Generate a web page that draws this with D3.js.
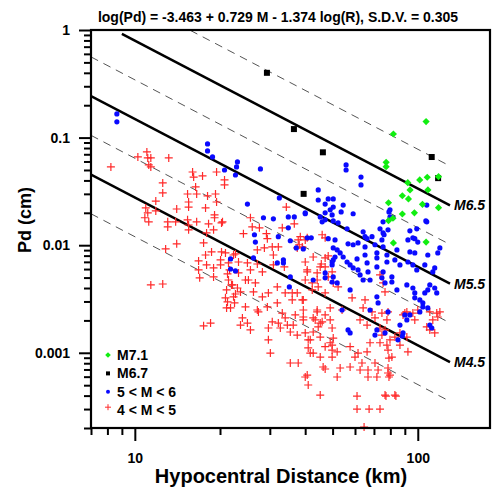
<!DOCTYPE html>
<html>
<head>
<meta charset="utf-8">
<script src="https://cdn.jsdelivr.net/npm/d3@7"></script>
<style>
  body { margin: 0; background: #fff; }
  svg { font-family: "Liberation Sans", Arial, sans-serif; font-weight: bold; }
</style>
</head>
<body>
<svg id="chart" width="499" height="491"></svg>
<script>
// regression from the title: log(Pd) = a + b M + c log(R)
const coefA = -3.463, coefM = 0.729, coefR = -1.374;
const titleText = "log(Pd) = -3.463 + 0.729 M - 1.374 log(R), S.D.V. = 0.305";

const solidMags = [4.5, 5.5, 6.5];
const solidLabels = ["M4.5", "M5.5", "M6.5"];
const solidStartR = [7, 7, 9];
const dashMags = [4.0, 5.0, 6.0, 7.0];
const lineEndR = 130;

const xDomain = [7, 180];
const yDomain = [0.0002, 1];
const xMajorTicks = [10, 100];
const yMajorTicks = [1, 0.1, 0.01, 0.001];

const legendLabels = ["M7.1", "M6.7", "5 < M < 6", "4 < M < 5"];

// [R (km), Pd (cm)]
const m71Points = [[107,0.141],[82,0.108],[77.3,0.0589],[77.3,0.0537],[118.4,0.0433],[108,0.0428],[101.6,0.0404],
  [92.2,0.0381],[93.9,0.0326],[108.6,0.0326],[88.2,0.0288],[92.7,0.0269],[78.8,0.0248],[103.9,0.024],[118.4,0.0223],
  [97.3,0.020],[88.2,0.0195],[81.7,0.0178],[78.8,0.0169],[82,0.0105],[107,0.0107]];

const m67Points = [[29.3,0.40],[36.5,0.12],[46.2,0.073],[39.5,0.030],[112,0.066],[118,0.042]];

const m5to6Points = [[8.64,0.166],[8.64,0.140],[18.07,0.0873],[18.07,0.0752],[18.82,0.0661],[20.75,0.0500],[22.88,0.0534],
  [22.68,0.0449],[23.05,0.0594],[21.79,0.00745],[21.79,0.00601],[22.68,0.00577],[27.79,0.0512],[32.42,0.0275],[25.0,0.0241],
  [44.48,0.0326],[44.48,0.0263],[48.24,0.0269],[50.26,0.0269],[47.06,0.0241],[40.02,0.0200],[34.87,0.0183],[36.61,0.0183],
  [28.48,0.0180],[30.88,0.0176],[45.93,0.0165],[47.06,0.0172],[50.26,0.0168],[49.03,0.0213],[26.47,0.0125],[26.67,0.0107],
  [32.15,0.0120],[34.87,0.0145],[35.44,0.0110],[40.67,0.0117],[42.03,0.0117],[37.21,0.00944],[39.40,0.00924],[48.24,0.0115],
  [50.26,0.00944],[33.50,0.00729],[26.26,0.00761],[50.26,0.00729],[49.81,0.00655],[31.88,0.00684],[33.50,0.00684],
  [35.44,0.00507],[35.17,0.00409],[47.06,0.00552],[47.06,0.00497],[49.81,0.00455],[50.26,0.00507],[40.02,0.0196],
  [45.21,0.0183],[47.06,0.0200],[49.81,0.0191],[53.6,0.0204],[59.1,0.0196],[52.3,0.0161],[56.25,0.0142],[64.1,0.0133],
  [65.1,0.0120],[66.2,0.0115],[68.9,0.0120],[75.4,0.0130],[78.5,0.0139],[74.7,0.0112],[79.76,0.0213],[79.76,0.0183],
  [92.3,0.0112],[97.6,0.0115],[100,0.0107],[107.6,0.0165],[51.0,0.0112],[56.7,0.0103],[59.1,0.0101],[61.5,0.0105],
  [65.1,0.00964],[70.6,0.0101],[75.4,0.00964],[84.4,0.00903],[93.8,0.00865],[97.6,0.00847],[108.5,0.00811],[117.7,0.00847],
  [119.7,0.00944],[51.9,0.00903],[53.17,0.00847],[51.0,0.00777],[54.5,0.00777],[49.81,0.00698],[56.25,0.00698],[61.0,0.00745],
  [65.1,0.00811],[66.2,0.00684],[71.7,0.00847],[71.7,0.00761],[77.8,0.00811],[77.8,0.00698],[83.0,0.00729],[86.5,0.00655],
  [92.3,0.00698],[96.1,0.00655],[99.2,0.00589],[105.9,0.00655],[114.8,0.00615],[113.0,0.00564],[57.66,0.00655],[59.1,0.00615],
  [61.5,0.00589],[66.7,0.00564],[71.7,0.00628],[62.53,0.00529],[64.1,0.00475],[67.81,0.00475],[75.4,0.00564],[74.7,0.00497],
  [81.0,0.00507],[76.6,0.00446],[81.0,0.00455],[84.4,0.00384],[91.5,0.00427],[96.1,0.00400],[97.6,0.00360],[97.6,0.00324],
  [105.9,0.00360],[108.5,0.00384],[110.3,0.00427],[114.8,0.00400],[116.7,0.00360],[104.2,0.00291],[104.2,0.00267],
  [101.7,0.00310],[108.5,0.00261],[101.7,0.00240],[71.7,0.00331],[72.4,0.00291],[78.5,0.00240],[67.81,0.00250],[93.8,0.00225],
  [90.0,0.00225],[91.5,0.00202],[86.5,0.00181],[110.3,0.00181],[112.1,0.00170],[88.7,0.00153],[85.1,0.00132],[71.7,0.00163],
  [70.6,0.00146],[76.6,0.00153],[56.7,0.00163],[57.66,0.00153],[54.0,0.00250],[42.7,0.00475],[51.9,0.00446],[57.66,0.00384],
  [55.8,0.0557],[55.8,0.0500],[63.0,0.0430],[63.0,0.0363],[79.1,0.0204],[81.7,0.0180],[75.4,0.0165],[73.54,0.0142],
  [76.0,0.0125],[107.6,0.0236],[106.8,0.0168],[99.2,0.0142],[93.8,0.0136],[96.1,0.0117],[88.2,0.00143],[50.26,0.0226],
  [54.5,0.0236]];

const m4to5Points = [[11.03,0.0736],[10.25,0.0661],[11.11,0.0647],[11.39,0.0647],[11.20,0.0557],[11.39,0.0534],[8.23,0.0534],
  [13.18,0.0647],[16.0,0.0479],[16.14,0.0430],[17.35,0.0440],[19.45,0.0479],[20.75,0.0404],[20.75,0.0363],[12.55,0.0379],
  [12.55,0.0306],[16.4,0.0348],[15.36,0.0299],[16.54,0.0299],[18.07,0.0287],[19.28,0.0299],[19.45,0.0252],[11.86,0.0257],
  [15.49,0.0252],[15.49,0.0226],[10.93,0.0222],[11.11,0.0200],[11.86,0.0208],[17.78,0.0222],[14.06,0.0217],[10.85,0.0180],
  [11.20,0.0165],[13.07,0.0165],[13.07,0.0148],[13.94,0.0165],[15.36,0.0172],[15.49,0.0154],[16.54,0.0165],[18.22,0.0158],
  [19.13,0.0180],[19.13,0.0191],[20.41,0.0165],
  [15.49,0.0139],[17.93,0.0130],[18.98,0.0139],[20.25,0.0161],[14.06,0.0103],[12.85,0.00924],[17.5,0.0105],[18.67,0.00865],
  [17.78,0.00811],[20.25,0.00865],[20.91,0.00847],[22.68,0.00829],[16.8,0.00714],[17.93,0.00655],[20.09,0.00655],
  [18.98,0.00615],[16.8,0.00589],[21.26,0.00541],[16.95,0.00497],[18.98,0.00507],[21.97,0.00427],[20.91,0.00324],
  [22.68,0.00352],[21.1,0.00261],[22.51,0.00291],[11.39,0.00427],[12.55,0.00436],[17.5,0.00178],[18.52,0.00189],[20.09,0.00729],
  [34.31,0.0226],[36.61,0.0158],[33.2,0.0145],[25.62,0.0180],[26.0,0.0148],[27.56,0.0145],[24.2,0.0128],[29.18,0.0128],
  [29.4,0.0115],[27.1,0.00903],[28.7,0.00944],[30.6,0.00964],[30.88,0.00811],[32.15,0.00964],[37.8,0.0112],[38.1,0.0101],
  [40.67,0.0117],[45.93,0.0125],[47.06,0.0117],[37.5,0.00944],[42.7,0.00777],[45.6,0.00669],[48.24,0.00794],[22.33,0.00811],
  [23.25,0.00698],[25.0,0.00684],[27.1,0.00669],[30.88,0.00655],[33.76,0.00628],[21.62,0.00589],
  [21.43,0.00684],[25.62,0.00589],[24.6,0.00475],[23.25,0.00552],[22.14,0.00427],[23.05,0.00400],[23.63,0.00368],
  [22.33,0.00331],[21.26,0.00297],[21.79,0.00261],[24.6,0.00267],[26.26,0.00368],[26.67,0.00446],[25.2,0.00475],
  [28.24,0.00564],[29.65,0.00360],[28.24,0.00331],[27.34,0.00240],[29.4,0.00267],[31.88,0.00409],[31.88,0.00291],
  [34.0,0.00360],[36.0,0.00360],[36.0,0.00310],[37.5,0.00360],[39.4,0.00310],[40.67,0.00564],[40.02,0.00475],[44.1,0.00552],
  [44.1,0.00475],[44.48,0.00409],[42.37,0.00384],[47.06,0.00360],[49.03,0.00261],[44.1,0.00240],[43.4,0.00202],
  [45.93,0.00194],[44.48,0.00174],[39.4,0.00215],[36.9,0.00225],[33.2,0.00234],[34.0,0.00211],[32.15,0.00189],
  [30.6,0.00194],[29.65,0.00170],[34.6,0.00181],[36.3,0.00181],[35.44,0.00156],[37.5,0.00146],[32.68,0.00170],
  [24.0,0.00211],[25.0,0.00189],[25.62,0.00163],[23.63,0.00181],[29.65,0.00132],[30.13,0.000994],[35.44,0.000804],
  [37.8,0.000804],[41.0,0.00132],[41.0,0.00111],[41.69,0.000994],[42.7,0.000994],[47.06,0.000707],[40.02,0.000596],
  [41.0,0.000502],[45.21,0.000405],[49.81,0.00170],[49.03,0.00124],[49.81,0.00106],[49.81,0.000913],[50.26,0.00137],
  [51.9,0.000596],[61.0,0.000396],[61.0,0.000300],[67.3,0.000300],[73.54,0.000300],[77.2,0.000396],[83.7,0.000396],
  [62.53,0.000692],[66.7,0.000596],[71.7,0.000596],[79.1,0.000596],[64.6,0.000204],
  [38.44,0.0120],[40.02,0.0112],[39.07,0.00964],[40.02,0.00698],[40.67,0.00589],[42.37,0.00446],[45.21,0.00628],
  [47.06,0.00761],[47.06,0.00628],[49.81,0.00564],[48.24,0.00507],[50.26,0.00446],[52.3,0.00409],[39.07,0.00310],
  [39.4,0.00250],[39.4,0.00202],[42.7,0.00211],[44.1,0.00250],[45.21,0.00189],[47.06,0.00225],[49.03,0.00202],
  [54.0,0.00250],[58.6,0.00324],[65.1,0.00310],[64.1,0.00261],[62.53,0.00202],[66.2,0.00181],[70.6,0.00211],[68.9,0.00240],
  [77.8,0.00202],[73.54,0.00170],[88.7,0.00225],[91.5,0.00240],[96.1,0.00234],[100,0.00250],[110.3,0.00240],[113.0,0.00202],
  [116.7,0.00234],[107.6,0.00174],[110.3,0.00163],[114.8,0.00153],[86.5,0.00153],[79.76,0.00132],[91.5,0.00140],
  [40.02,0.00153],[42.7,0.00156],[41.69,0.00132],[45.21,0.00140],[49.81,0.00118],[47.06,0.00114],[51.9,0.00102],
  [57.66,0.00114],[61.5,0.000994],[60.0,0.000913],[66.2,0.00102],[67.81,0.00124],[73.54,0.00124],[78.5,0.00106],
  [79.1,0.000894],[92.3,0.00102],[57.66,0.000738],[63.5,0.000804],[70.6,0.000804],[72.4,0.000692],[78.5,0.000649],
  [66.7,0.000692],[53.17,0.000722],[46.3,0.000738],[45.21,0.000913],[40.67,0.000621],
  [73.54,0.00529],[75.4,0.00446],[76.6,0.00368],[74.7,0.00234],[78.5,0.00240],[90.0,0.00234],[97.6,0.00202],[119.7,0.00240],
  [117.7,0.00215],[76.6,0.00163],[74.7,0.00146],[83.0,0.00140],[86.5,0.00118],[77.8,0.00118],[81.0,0.000913],[78.5,0.000722],
  [79.76,0.000621],[76.6,0.000405],[83.0,0.000405],[21.43,0.00475],[21.1,0.00384],[27.1,0.00250]];

// Pd predicted by the regression
const predictPd = (mag, r) => Math.pow(10, coefA + coefM * mag + coefR * Math.log10(r));
const isDecade = v => Math.abs(Math.log10(v) - Math.round(Math.log10(v))) < 1e-6;

let plot = { left: 91, right: 490, top: 30, bottom: 428 };
let svg = d3.select("#chart");

let x = d3.scaleLog().domain(xDomain).range([plot.left, plot.right]);
let y = d3.scaleLog().domain(yDomain).range([plot.bottom, plot.top]);

svg.append("defs").append("clipPath").attr("id", "plotClip")
  .append("rect")
  .attr("x", plot.left).attr("y", plot.top)
  .attr("width", plot.right - plot.left).attr("height", plot.bottom - plot.top);

// axes: minor ticks first, then labelled majors
function drawAxis(axis, transform) {
  let g = svg.append("g").attr("transform", transform).call(axis);
  g.select(".domain").remove();
  g.selectAll(".tick line").attr("stroke", "#000").attr("stroke-width", 2);
  g.selectAll("text").attr("font-size", 14).attr("font-weight", "bold")
    .attr("font-family", "Liberation Sans, Arial, sans-serif").attr("fill", "#000");
  return g;
}

drawAxis(d3.axisBottom(x).tickValues(x.ticks().filter(v => !isDecade(v))).tickSize(7).tickFormat(""),
  `translate(0,${plot.bottom})`);
drawAxis(d3.axisBottom(x).tickValues(xMajorTicks).tickSize(13).tickPadding(12).tickFormat(d => String(d)),
  `translate(0,${plot.bottom})`);
drawAxis(d3.axisLeft(y).tickValues(y.ticks().filter(v => !isDecade(v))).tickSize(7).tickFormat(""),
  `translate(${plot.left},0)`);
drawAxis(d3.axisLeft(y).tickValues(yMajorTicks).tickSize(12).tickPadding(9).tickFormat(d => String(d)),
  `translate(${plot.left},0)`);

// regression lines
let lineGen = d3.line().x(d => x(d[0])).y(d => y(d[1]));
let lines = svg.append("g").attr("clip-path", "url(#plotClip)");

dashMags.forEach(m => {
  lines.append("path")
    .attr("d", lineGen([[xDomain[0], predictPd(m, xDomain[0])], [lineEndR, predictPd(m, lineEndR)]]))
    .attr("fill", "none").attr("stroke", "#555").attr("stroke-width", 1)
    .attr("stroke-dasharray", "8,6");
});

solidMags.forEach((m, i) => {
  lines.append("path")
    .attr("d", lineGen([[solidStartR[i], predictPd(m, solidStartR[i])], [lineEndR, predictPd(m, lineEndR)]]))
    .attr("fill", "none").attr("stroke", "#000").attr("stroke-width", 2.5);
  svg.append("text")
    .attr("x", x(lineEndR) + 4).attr("y", y(predictPd(m, lineEndR)))
    .attr("dy", "0.35em").attr("font-size", 14).attr("font-style", "italic")
    .text(solidLabels[i]);
});

// markers
const plusPath = h => `M${-h},0H${h}M0,${-h}V${h}`;
const diamondPath = h => `M0,${-h}L${h},0L0,${h}L${-h},0Z`;
let marks = svg.append("g");

marks.selectAll(".m45").data(m4to5Points).enter().append("path")
  .attr("class", "m45")
  .attr("transform", d => `translate(${x(d[0])},${y(d[1])})`)
  .attr("d", plusPath(4)).attr("stroke", "#ff2a2a").attr("stroke-width", 1.2).attr("fill", "none");

marks.selectAll(".m56").data(m5to6Points).enter().append("circle")
  .attr("class", "m56")
  .attr("cx", d => x(d[0])).attr("cy", d => y(d[1])).attr("r", 2.6)
  .attr("fill", "#0a0aff");

marks.selectAll(".m67").data(m67Points).enter().append("rect")
  .attr("class", "m67")
  .attr("x", d => x(d[0]) - 3).attr("y", d => y(d[1]) - 3)
  .attr("width", 6).attr("height", 6).attr("fill", "#000");

marks.selectAll(".m71").data(m71Points).enter().append("path")
  .attr("class", "m71")
  .attr("transform", d => `translate(${x(d[0])},${y(d[1])})`)
  .attr("d", diamondPath(3.6)).attr("fill", "#11ee11");

// frame
svg.append("rect")
  .attr("x", plot.left).attr("y", plot.top)
  .attr("width", plot.right - plot.left).attr("height", plot.bottom - plot.top)
  .attr("fill", "none").attr("stroke", "#000").attr("stroke-width", 2.2);

// legend
let legend = svg.append("g").attr("transform", "translate(108,355)");
legendLabels.forEach((label, i) => {
  let row = legend.append("g").attr("transform", `translate(0,${i * 18.4})`);
  if (i === 0) row.append("path").attr("d", diamondPath(2.8)).attr("fill", "#11ee11");
  if (i === 1) row.append("rect").attr("x", -2).attr("y", -2).attr("width", 4).attr("height", 4).attr("fill", "#000");
  if (i === 2) row.append("circle").attr("r", 2).attr("fill", "#0a0aff");
  if (i === 3) row.append("path").attr("d", plusPath(3)).attr("transform", "translate(0,-3)")
    .attr("stroke", "#ff2a2a").attr("stroke-width", 1).attr("fill", "none");
  row.append("text").attr("x", 9).attr("dy", "0.36em").attr("font-size", 14).text(label);
});

// titles
svg.append("text").attr("x", 278).attr("y", 22).attr("text-anchor", "middle")
  .attr("font-size", 14).text(titleText);
svg.append("text").attr("x", 281).attr("y", 483).attr("text-anchor", "middle")
  .attr("font-size", 20).text("Hypocentral Distance (km)");
svg.append("text").attr("transform", "translate(31,220) rotate(-90)").attr("text-anchor", "middle")
  .attr("font-size", 18).text("Pd (cm)");
</script>
</body>
</html>
